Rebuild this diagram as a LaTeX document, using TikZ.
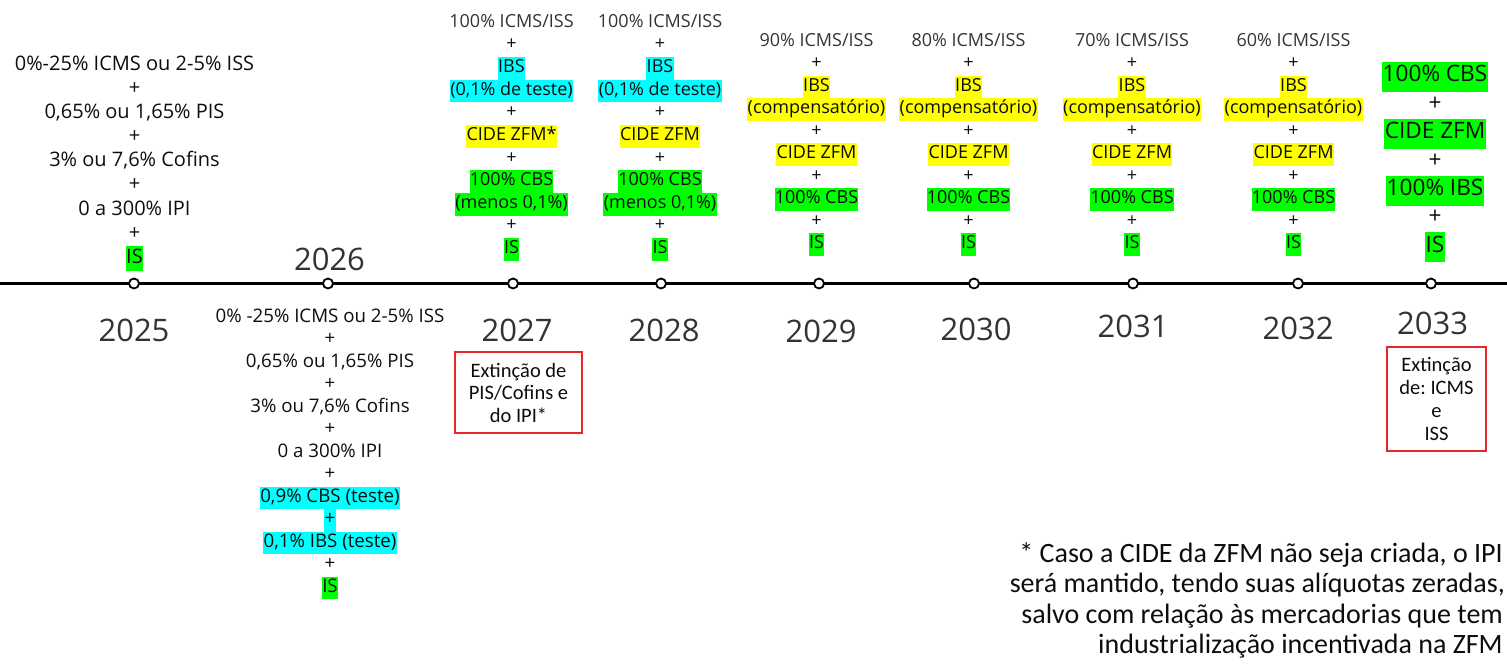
\documentclass[tikz,border=0pt]{standalone}
\usepackage{fontspec}
\setmainfont{Open Sans}
\newfontfamily\calib{Carlito}
\definecolor{hlgreen}{HTML}{00FF00}
\definecolor{hlcyan}{HTML}{00FFFF}
\definecolor{hlyellow}{HTML}{FFFF00}
\definecolor{txt}{HTML}{0D0D0D}
\definecolor{gtxt}{HTML}{333333}
\definecolor{boxred}{HTML}{E8262A}
\frenchspacing
\begin{document}
\begin{tikzpicture}[x=1pt,y=-1pt,
  colA/.style={font=\fontsize{20}{22}\selectfont, text height=15pt, text depth=6pt, inner xsep=0.3pt, inner ysep=2pt},
  colB/.style={font=\fontsize{18.7}{21}\selectfont, text height=14pt, text depth=5.5pt, inner xsep=0.3pt, inner ysep=1.5pt},
  colC/.style={font=\fontsize{18}{20}\selectfont, text height=13.5pt, text depth=5.2pt, inner xsep=0.3pt, inner ysep=2pt},
  colD/.style={font=\fontsize{22.6}{25}\selectfont, text height=17pt, text depth=7pt, inner xsep=0.3pt, inner ysep=3pt},
  year/.style={font=\fontsize{31}{34}\selectfont, text=gtxt, inner sep=0pt},
  dot/.style={circle, draw=black, fill=white, line width=1.8pt, minimum size=10pt, inner sep=0pt},
  redbox/.style={draw=boxred, line width=1.2pt, inner sep=0pt, align=center, text=txt, font=\calib\fontsize{20.5}{22.5}\selectfont},
  foot/.style={font=\calib\fontsize{28}{30}\selectfont, text=txt, inner sep=0pt, anchor=base east}
]
\useasboundingbox (0,0) rectangle (1507,668);

% timeline
\coordinate (tl) at (0,283.5);
\coordinate (tr) at (1507,283.5);
\draw[line width=3pt] (tl) -- (tr);
\foreach \x/\n in {134/25,328/26,513/27,661/28,819/29,974/30,1133/31,1298/32,1431/33}
  \node[dot] (d\n) at (\x,283.5) {};

% years
\node[year] (y25) at (134,330) {2025};
\node[year] (y26) at (329.5,259) {2026};
\node[year] (y27) at (517,330) {2027};
\node[year] (y28) at (664,330) {2028};
\node[year] (y29) at (821,331) {2029};
\node[year] (y30) at (976,329) {2030};
\node[year] (y31) at (1133,326) {2031};
\node[year] (y32) at (1298,328) {2032};
\node[year] (y33) at (1432.5,323) {2033};

% 2025 column
\foreach \t/\f/\c [count=\i] in {{0\%-25\% ICMS ou 2-5\% ISS}/none/txt, +/none/txt, {0,65\% ou 1,65\% PIS}/none/txt, +/none/txt, {3\% ou 7,6\% Cofins}/none/txt, +/none/txt, {0 a 300\% IPI}/none/txt, +/none/txt, IS/hlgreen/txt}
  \node[colA, fill=\f, text=\c] (a\i) at (134.5,{66+(\i-1)*24.1}) {\t};

% 2026 column
\foreach \t/\f/\c [count=\i] in {{0\% -25\% ICMS ou 2-5\% ISS}/none/txt, +/none/txt, {0,65\% ou 1,65\% PIS}/none/txt, +/none/txt, {3\% ou 7,6\% Cofins}/none/txt, +/none/txt, {0 a 300\% IPI}/none/txt, +/none/txt, {0,9\% CBS (teste)}/hlcyan/txt, +/hlcyan/txt, {0,1\% IBS (teste)}/hlcyan/txt, +/none/txt, IS/hlgreen/txt}
  \node[colB, fill=\f, text=\c] (b\i) at (330,{318+(\i-1)*22.5}) {\t};

% 2027 column
\foreach \t/\f/\c [count=\i] in {{100\% ICMS/ISS}/none/gtxt, +/none/txt, IBS/hlcyan/txt, {(0,1\% de teste)}/hlcyan/txt, +/none/txt, {CIDE ZFM*}/hlyellow/txt, +/none/txt, {100\% CBS}/hlgreen/txt, {(menos 0,1\%)}/hlgreen/txt, +/none/txt, IS/hlgreen/txt}
  \node[colC, fill=\f, text=\c] (c\i) at (511.5,{23+(\i-1)*22.65}) {\t};

% 2028 column
\foreach \t/\f/\c [count=\i] in {{100\% ICMS/ISS}/none/gtxt, +/none/txt, IBS/hlcyan/txt, {(0,1\% de teste)}/hlcyan/txt, +/none/txt, {CIDE ZFM}/hlyellow/txt, +/none/txt, {100\% CBS}/hlgreen/txt, {(menos 0,1\%)}/hlgreen/txt, +/none/txt, IS/hlgreen/txt}
  \node[colC, fill=\f, text=\c] (e\i) at (660,{23+(\i-1)*22.65}) {\t};

% 2029-2032 columns
\foreach \cx/\pct/\nm in {816.5/90/p, 968.5/80/q, 1132/70/r, 1293.5/60/s}{
  \foreach \t/\f/\c [count=\i] in {{\pct\% ICMS/ISS}/none/gtxt, +/none/txt, IBS/hlyellow/txt, {(compensatório)}/hlyellow/txt, +/none/txt, {CIDE ZFM}/hlyellow/txt, +/none/txt, {100\% CBS}/hlgreen/txt, +/none/txt, IS/hlgreen/txt}
    \node[colC, fill=\f, text=\c] (\nm\i) at (\cx,{42+(\i-1)*22.5}) {\t};
}

% 2033 column
\foreach \t/\f/\c [count=\i] in {{100\% CBS}/hlgreen/txt, +/none/txt, {CIDE ZFM}/hlgreen/txt, +/none/txt, {100\% IBS}/hlgreen/txt, +/none/txt, IS/hlgreen/txt}
  \node[colD, fill=\f, text=\c] (f\i) at (1435,{77+(\i-1)*28.4}) {\t};

% red boxes
\node[redbox, minimum width=127pt, minimum height=81pt] (x27) at (518.5,392.5) {Extinção de\\PIS/Cofins e\\do IPI*};
\node[redbox, minimum width=99pt, minimum height=104pt, font=\calib\fontsize{20.5}{23.3}\selectfont] (x33) at (1436.5,399) {Extinção\\de: ICMS\\e\\ISS};

% footnote
\node[foot] (fn1) at (1503,562) {* Caso a CIDE da ZFM não seja criada, o IPI};
\node[foot] (fn2) at (1505,592.5) {será mantido, tendo suas alíquotas zeradas,};
\node[foot] (fn3) at (1503,623) {salvo com relação às mercadorias que tem};
\node[foot] (fn4) at (1503,653.5) {industrialização incentivada na ZFM};
\end{tikzpicture}
\end{document}
